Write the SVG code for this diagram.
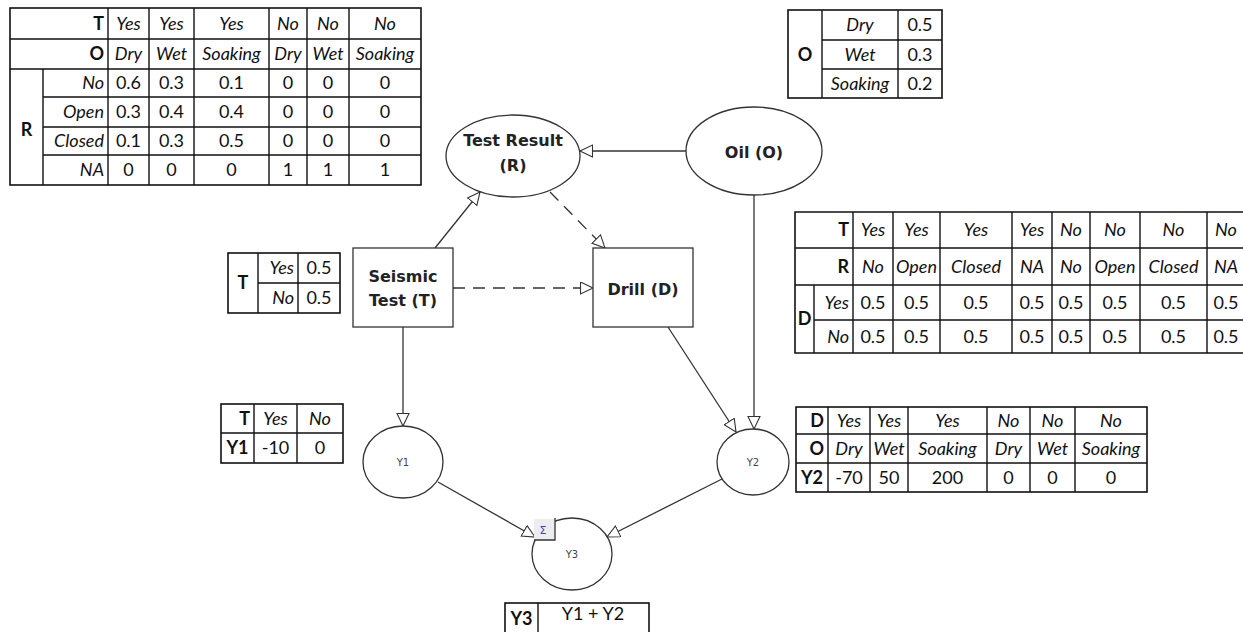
<svg xmlns="http://www.w3.org/2000/svg" width="1243" height="632" viewBox="0 0 1243 632">
<defs>
<marker id="arr" markerUnits="userSpaceOnUse" markerWidth="16" markerHeight="14" refX="13" refY="6.5" orient="auto">
<path d="M0.5,0.5 L13,6.5 L0.5,12.5 z" fill="#fff" stroke="#333" stroke-width="1.1"/>
</marker>
<style>
.tb{fill:none;stroke:#111;stroke-width:1.6}
.tl{stroke:#111;stroke-width:1.4}
.t{font-family:Lato,"Liberation Sans",sans-serif;font-size:18px;fill:#111;text-anchor:middle}
.i{font-style:italic}
.b{font-weight:bold}
.r{text-anchor:end}
.node{fill:#fff;stroke:#333;stroke-width:1.3}
.nl{font-family:"DejaVu Sans",sans-serif;font-size:16px;font-weight:bold;fill:#222;text-anchor:middle}
.yl{font-family:"DejaVu Sans",sans-serif;font-size:10px;fill:#444;text-anchor:middle}
.e{fill:none;stroke:#333;stroke-width:1.3;marker-end:url(#arr)}
.d{stroke-dasharray:12,8}
</style>
</defs>
<rect width="1243" height="632" fill="#fff"/>

<!-- Top-left table: R | T,O -->
<g id="table-R">
<rect class="tb" x="10" y="8" width="411" height="177"/>
<path class="tl" d="M10,39H421M10,69H421M43,97H421M43,127H421M43,155H421M43,69V185M108,8V185M149,8V185M194,8V185M269,8V185M307,8V185M349,8V185"/>
<text class="t b r" x="104" y="30">T</text>
<text class="t b r" x="104" y="60">O</text>
<text class="t b" x="26.5" y="136">R</text>
<g class="t i">
<text x="128.5" y="30">Yes</text><text x="171.5" y="30">Yes</text><text x="231.5" y="30">Yes</text><text x="288" y="30">No</text><text x="328" y="30">No</text><text x="385" y="30">No</text>
<text x="128.5" y="60">Dry</text><text x="171.5" y="60">Wet</text><text x="231.5" y="60">Soaking</text><text x="288" y="60">Dry</text><text x="328" y="60">Wet</text><text x="385" y="60">Soaking</text>
</g>
<g class="t i r">
<text x="104" y="89">No</text><text x="104" y="118">Open</text><text x="104" y="147">Closed</text><text x="104" y="176">NA</text>
</g>
<g class="t">
<text x="128.5" y="89">0.6</text><text x="171.5" y="89">0.3</text><text x="231.5" y="89">0.1</text><text x="288" y="89">0</text><text x="328" y="89">0</text><text x="385" y="89">0</text>
<text x="128.5" y="118">0.3</text><text x="171.5" y="118">0.4</text><text x="231.5" y="118">0.4</text><text x="288" y="118">0</text><text x="328" y="118">0</text><text x="385" y="118">0</text>
<text x="128.5" y="147">0.1</text><text x="171.5" y="147">0.3</text><text x="231.5" y="147">0.5</text><text x="288" y="147">0</text><text x="328" y="147">0</text><text x="385" y="147">0</text>
<text x="128.5" y="176">0</text><text x="171.5" y="176">0</text><text x="231.5" y="176">0</text><text x="288" y="176">1</text><text x="328" y="176">1</text><text x="385" y="176">1</text>
</g>
</g>

<!-- O table -->
<g id="table-O">
<rect class="tb" x="788" y="10" width="154" height="88"/>
<path class="tl" d="M822,10V98M898,10V98M822,40H942M822,69H942"/>
<text class="t b" x="805" y="60.5">O</text>
<g class="t i"><text x="860" y="31">Dry</text><text x="860" y="60.5">Wet</text><text x="860" y="89.5">Soaking</text></g>
<g class="t"><text x="920" y="31">0.5</text><text x="920" y="60.5">0.3</text><text x="920" y="89.5">0.2</text></g>
</g>

<!-- D table -->
<g id="table-D">
<path class="tb" d="M1250,212H795V353H1250"/>
<path class="tl" d="M795,248H1250M795,285H1250M814,320H1250M814,285V353M853,212V353M893,212V353M940,212V353M1012,212V353M1052,212V353M1090,212V353M1140,212V353M1207,212V353"/>
<text class="t b r" x="849" y="236">T</text>
<text class="t b r" x="849" y="272.5">R</text>
<text class="t b" x="804.5" y="325">D</text>
<text class="t i r" x="849" y="308.5">Yes</text>
<text class="t i r" x="849" y="342.5">No</text>
<g class="t i">
<text x="873" y="236">Yes</text><text x="916.5" y="236">Yes</text><text x="976" y="236">Yes</text><text x="1032" y="236">Yes</text><text x="1071" y="236">No</text><text x="1115" y="236">No</text><text x="1173.5" y="236">No</text><text x="1226" y="236">No</text>
<text x="873" y="272.5">No</text><text x="916.5" y="272.5">Open</text><text x="976" y="272.5">Closed</text><text x="1032" y="272.5">NA</text><text x="1071" y="272.5">No</text><text x="1115" y="272.5">Open</text><text x="1173.5" y="272.5">Closed</text><text x="1226" y="272.5">NA</text>
</g>
<g class="t">
<text x="873" y="308.5">0.5</text><text x="916.5" y="308.5">0.5</text><text x="976" y="308.5">0.5</text><text x="1032" y="308.5">0.5</text><text x="1071" y="308.5">0.5</text><text x="1115" y="308.5">0.5</text><text x="1173.5" y="308.5">0.5</text><text x="1226" y="308.5">0.5</text>
<text x="873" y="342.5">0.5</text><text x="916.5" y="342.5">0.5</text><text x="976" y="342.5">0.5</text><text x="1032" y="342.5">0.5</text><text x="1071" y="342.5">0.5</text><text x="1115" y="342.5">0.5</text><text x="1173.5" y="342.5">0.5</text><text x="1226" y="342.5">0.5</text>
</g>
</g>

<!-- T table -->
<g id="table-T">
<rect class="tb" x="228" y="253" width="112" height="60"/>
<path class="tl" d="M258,253V313M298,253V313M258,283H340"/>
<text class="t b" x="243" y="289">T</text>
<text class="t i r" x="294" y="274">Yes</text>
<text class="t i r" x="294" y="304">No</text>
<text class="t" x="319" y="274">0.5</text>
<text class="t" x="319" y="304">0.5</text>
</g>

<!-- Y1 table -->
<g id="table-Y1">
<rect class="tb" x="221" y="404" width="122" height="59"/>
<path class="tl" d="M221,433H343M254,404V463M297,404V463"/>
<text class="t b r" x="250" y="424.5">T</text>
<text class="t i" x="275.5" y="424.5">Yes</text>
<text class="t i" x="320" y="424.5">No</text>
<text class="t b" x="237.5" y="454">Y1</text>
<text class="t" x="275.5" y="454">-10</text>
<text class="t" x="320" y="454">0</text>
</g>

<!-- Y2 table -->
<g id="table-Y2">
<rect class="tb" x="796" y="407" width="351" height="85"/>
<path class="tl" d="M796,434H1147M796,463H1147M828,407V492M870,407V492M908,407V492M987,407V492M1030,407V492M1075,407V492"/>
<text class="t b r" x="824" y="426.5">D</text>
<text class="t b r" x="824" y="454.5">O</text>
<text class="t b" x="812" y="483.5">Y2</text>
<g class="t i">
<text x="849" y="426.5">Yes</text><text x="889" y="426.5">Yes</text><text x="947.5" y="426.5">Yes</text><text x="1008.5" y="426.5">No</text><text x="1052.5" y="426.5">No</text><text x="1111" y="426.5">No</text>
<text x="849" y="454.5">Dry</text><text x="889" y="454.5">Wet</text><text x="947.5" y="454.5">Soaking</text><text x="1008.5" y="454.5">Dry</text><text x="1052.5" y="454.5">Wet</text><text x="1111" y="454.5">Soaking</text>
</g>
<g class="t">
<text x="849" y="483.5">-70</text><text x="889" y="483.5">50</text><text x="947.5" y="483.5">200</text><text x="1008.5" y="483.5">0</text><text x="1052.5" y="483.5">0</text><text x="1111" y="483.5">0</text>
</g>
</g>

<!-- Y3 table -->
<g id="table-Y3">
<rect class="tb" x="505" y="603" width="144" height="40"/>
<path class="tl" d="M538,603V643"/>
<text class="t b" x="521.5" y="625">Y3</text>
<text class="t" x="593" y="620">Y1 + Y2</text>
</g>

<!-- Connectors -->
<g id="connectors">
<path class="e" d="M686,151H580"/>
<path class="e" d="M435,248L480,192"/>
<path class="e d" d="M550,192L605,248"/>
<path class="e d" d="M453,288H593"/>
<path class="e" d="M403,327V426"/>
<path class="e" d="M668,327L736,432"/>
<path class="e" d="M754,195V429"/>
<path class="e" d="M438,482L535,537"/>
<path class="e" d="M722,479L607,537"/>
</g>

<!-- Nodes -->
<g id="node-R">
<ellipse class="node" cx="513" cy="156" rx="67" ry="41"/>
<text class="nl" x="513" y="146">Test Result</text>
<text class="nl" x="513" y="171">(R)</text>
</g>
<g id="node-O">
<ellipse class="node" cx="754" cy="151" rx="68" ry="44"/>
<text class="nl" x="754" y="158">Oil (O)</text>
</g>
<g id="node-T">
<rect class="node" x="353" y="248" width="100" height="79"/>
<text class="nl" x="403" y="282">Seismic</text>
<text class="nl" x="403" y="306">Test (T)</text>
</g>
<g id="node-D">
<rect class="node" x="593" y="248" width="100" height="79"/>
<text class="nl" x="643" y="295">Drill (D)</text>
</g>
<g id="node-Y1">
<ellipse class="node" cx="403" cy="462" rx="40" ry="36"/>
<text class="yl" x="403" y="466">Y1</text>
</g>
<g id="node-Y2">
<ellipse class="node" cx="753" cy="462" rx="36" ry="33"/>
<text class="yl" x="753" y="466">Y2</text>
</g>
<g id="node-Y3">
<ellipse class="node" cx="572" cy="554" rx="40" ry="36"/>
<text class="yl" x="572" y="558">Y3</text>
<rect x="534" y="519" width="21" height="21" fill="#ececf2"/>
<path d="M534,540H555V518" fill="none" stroke="#333" stroke-width="1.3"/>
<text x="543" y="534" font-family="'DejaVu Sans',sans-serif" font-size="11" fill="#3a4aa8" text-anchor="middle">Σ</text>
</g>
</svg>
